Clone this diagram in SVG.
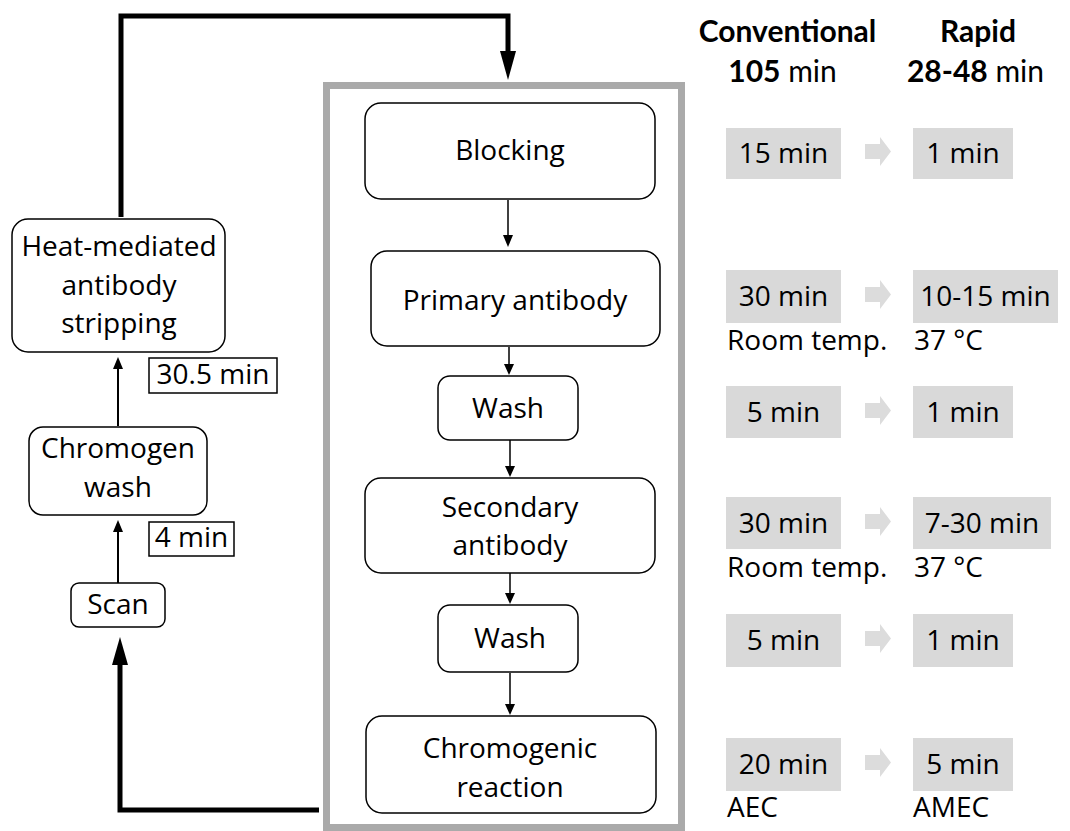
<svg xmlns="http://www.w3.org/2000/svg" width="1070" height="831" viewBox="0 0 1070 831">
<style>
  .node { fill: #ffffff; stroke: #000000; stroke-width: 1.5; }
  .t { font-family: "Open Sans", "Noto Sans", "DejaVu Sans", sans-serif; font-size: 28px; fill: #000000; }
  .c { text-anchor: middle; }
  .h { font-family: "Lato", "Open Sans", sans-serif; font-size: 30px; fill: #000000; text-anchor: middle; }
  .b { font-weight: bold; }
  .gbox { fill: #d9d9d9; }
  .garrow { fill: #dcdcdc; }
  .thin { stroke: #000000; stroke-width: 1.5; fill: none; }
  .mid { stroke: #000000; stroke-width: 2; fill: none; }
  .thick { stroke: #000000; stroke-width: 5; fill: none; stroke-linejoin: miter; }
  .head { fill: #000000; }
  .lbl { fill: #ffffff; stroke: #000000; stroke-width: 1.5; }
</style>

<!-- gray frame -->
<rect id="frame" x="326.5" y="85.5" width="355" height="742" fill="none" stroke="#aaaaaa" stroke-width="7"/>

<g id="connectors">
  <!-- loop back top -->
  <path class="thick" d="M121,217 V16 H508 V52"/>
  <polygon class="head" points="500,51 516,51 508,80"/>
  <!-- bottom loop to scan -->
  <path class="thick" d="M319,810 H120 V664"/>
  <polygon class="head" points="112,665 128,665 120,637"/>
  <!-- middle chain -->
  <line class="thin" x1="508" y1="200" x2="508" y2="237"/>
  <polygon class="head" points="503,235 513,235 508,247"/>
  <line class="thin" x1="509" y1="347" x2="509" y2="366"/>
  <polygon class="head" points="504,364 514,364 509,375"/>
  <line class="thin" x1="510" y1="440" x2="510" y2="468"/>
  <polygon class="head" points="505,466 515,466 510,477"/>
  <line class="thin" x1="510" y1="573" x2="510" y2="595"/>
  <polygon class="head" points="505,593 515,593 510,604"/>
  <line class="thin" x1="510" y1="673" x2="510" y2="706"/>
  <polygon class="head" points="505,704 515,704 510,715"/>
  <!-- left chain -->
  <line class="mid" x1="118" y1="426" x2="118" y2="366"/>
  <polygon class="head" points="113,369 123,369 118,357"/>
  <line class="mid" x1="118" y1="583" x2="118" y2="529"/>
  <polygon class="head" points="113,532 123,532 118,520"/>
</g>

<!-- left column -->
<g id="heat">
  <rect class="node" x="12" y="219" width="213" height="133" rx="16"/>
  <text class="t c" x="119" y="256">Heat-mediated</text>
  <text class="t c" x="119" y="295">antibody</text>
  <text class="t c" x="119" y="333">stripping</text>
</g>
<g id="label-30">
  <rect class="lbl" x="149" y="358" width="128" height="35"/>
  <text class="t c" x="213" y="384">30.5 min</text>
</g>
<g id="chromogen-wash">
  <rect class="node" x="29" y="427" width="178" height="88" rx="14"/>
  <text class="t c" x="118" y="458">Chromogen</text>
  <text class="t c" x="118" y="497">wash</text>
</g>
<g id="label-4">
  <rect class="lbl" x="149" y="522" width="85" height="34"/>
  <text class="t c" x="191.5" y="547">4 min</text>
</g>
<g id="scan">
  <rect class="node" x="71" y="583" width="94" height="44" rx="8"/>
  <text class="t c" x="118" y="614">Scan</text>
</g>

<!-- middle column -->
<g id="blocking">
  <rect class="node" x="365" y="103" width="290" height="96" rx="16"/>
  <text class="t c" x="510" y="160">Blocking</text>
</g>
<g id="primary">
  <rect class="node" x="371" y="251" width="289" height="95" rx="16"/>
  <text class="t c" x="515" y="310">Primary antibody</text>
</g>
<g id="wash1">
  <rect class="node" x="438" y="376" width="140" height="64" rx="12"/>
  <text class="t c" x="508" y="418">Wash</text>
</g>
<g id="secondary">
  <rect class="node" x="365" y="478" width="290" height="95" rx="16"/>
  <text class="t c" x="510" y="517">Secondary</text>
  <text class="t c" x="510" y="555">antibody</text>
</g>
<g id="wash2">
  <rect class="node" x="438" y="605" width="140" height="67" rx="12"/>
  <text class="t c" x="510" y="648">Wash</text>
</g>
<g id="chromogenic">
  <rect class="node" x="366" y="716" width="290" height="97" rx="16"/>
  <text class="t c" x="510" y="758">Chromogenic</text>
  <text class="t c" x="510" y="797">reaction</text>
</g>

<!-- right comparison -->
<g id="header">
  <text class="h b" x="787.5" y="42">Conventional</text>
  <text class="h" x="782.5" y="82"><tspan class="b">105</tspan> min</text>
  <text class="h b" x="978" y="42">Rapid</text>
  <text class="h" x="975.5" y="82"><tspan class="b">28-48</tspan> min</text>
</g>

<g id="row-blocking">
  <rect class="gbox" x="726" y="128" width="115" height="51"/>
  <text class="t c" x="783.5" y="163">15 min</text>
  <path class="garrow" d="M865,144 H880 V137 L891,151.5 L880,166 V159 H865 Z"/>
  <rect class="gbox" x="913" y="128" width="100" height="51"/>
  <text class="t c" x="963" y="163">1 min</text>
</g>
<g id="row-primary">
  <rect class="gbox" x="726" y="270" width="115" height="53"/>
  <text class="t c" x="783.5" y="306">30 min</text>
  <path class="garrow" d="M865,287 H880 V280 L891,294.5 L880,309 V302 H865 Z"/>
  <rect class="gbox" x="913" y="270" width="145" height="53"/>
  <text class="t c" x="985.5" y="306">10-15 min</text>
  <text class="t" x="727" y="350">Room temp.</text>
  <text class="t" x="914" y="350">37 °C</text>
</g>
<g id="row-wash1">
  <rect class="gbox" x="726" y="386" width="115" height="52"/>
  <text class="t c" x="783.5" y="422">5 min</text>
  <path class="garrow" d="M865,403 H880 V396 L891,410.5 L880,425 V418 H865 Z"/>
  <rect class="gbox" x="913" y="386" width="100" height="52"/>
  <text class="t c" x="963" y="422">1 min</text>
</g>
<g id="row-secondary">
  <rect class="gbox" x="726" y="497" width="115" height="52"/>
  <text class="t c" x="783.5" y="533">30 min</text>
  <path class="garrow" d="M865,514 H880 V507 L891,521.5 L880,536 V529 H865 Z"/>
  <rect class="gbox" x="913" y="497" width="138" height="52"/>
  <text class="t c" x="982" y="533">7-30 min</text>
  <text class="t" x="727" y="577">Room temp.</text>
  <text class="t" x="914" y="577">37 °C</text>
</g>
<g id="row-wash2">
  <rect class="gbox" x="726" y="614" width="115" height="53"/>
  <text class="t c" x="783.5" y="650">5 min</text>
  <path class="garrow" d="M865,631 H880 V624 L891,638.5 L880,653 V646 H865 Z"/>
  <rect class="gbox" x="913" y="614" width="100" height="53"/>
  <text class="t c" x="963" y="650">1 min</text>
</g>
<g id="row-chromogenic">
  <rect class="gbox" x="726" y="738" width="115" height="53"/>
  <text class="t c" x="783.5" y="774">20 min</text>
  <path class="garrow" d="M865,755 H880 V748 L891,762.5 L880,777 V770 H865 Z"/>
  <rect class="gbox" x="913" y="738" width="100" height="53"/>
  <text class="t c" x="963" y="774">5 min</text>
  <text class="t" x="727" y="817">AEC</text>
  <text class="t" x="913" y="817">AMEC</text>
</g>
</svg>
